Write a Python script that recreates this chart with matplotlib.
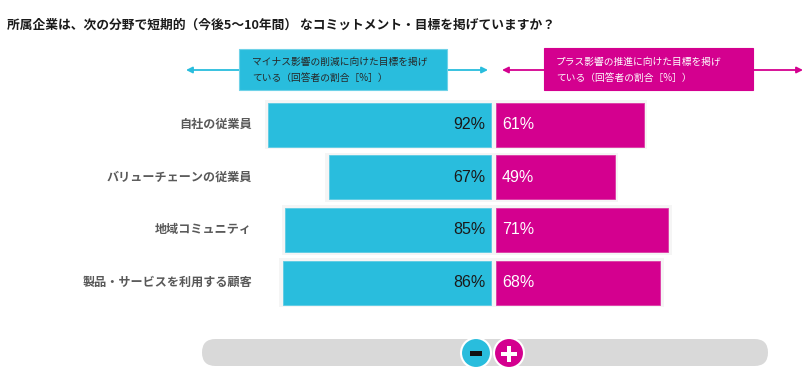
import matplotlib
matplotlib.use("Agg")
import matplotlib.pyplot as plt
import matplotlib.transforms as mtransforms
from matplotlib.patches import Rectangle, Circle, FancyBboxPatch

plt.rcParams["font.family"] = ["Noto Sans CJK JP", "DejaVu Sans"]

# =============================
# DATA
# =============================

title = "所属企業は、次の分野で短期的（今後5～10年間） なコミットメント・目標を掲げていますか？"
categories = ["自社の従業員", "バリューチェーンの従業員", "地域コミュニティ", "製品・サービスを利用する顧客"]
minus_pct = [92, 67, 85, 86]   # negative impact reduction targets
plus_pct = [61, 49, 71, 68]    # positive impact promotion targets
minus_label = "マイナス影響の削減に向けた目標を掲げ\nている（回答者の割合［%］）"
plus_label = "プラス影響の推進に向けた目標を掲げ\nている（回答者の割合［%］）"

CYAN = "#29bddd"
MAGENTA = "#d4008f"
GRAY_TXT = "#595959"

W, H = 809, 380
fig = plt.figure(figsize=(W / 100, H / 100), dpi=100)

# overlay in pixel coords (y down)
ov = fig.add_axes([0, 0, 1, 1])
ov.set_xlim(0, W)
ov.set_ylim(H, 0)
ov.axis("off")

# bar axes: 2.42 px per percent, centre at x=493.5
PX = 2.42
ax_l, ax_r = 200, 790
ax_t, ax_b = 95, 310
ax = fig.add_axes([ax_l / W, 1 - ax_b / H, (ax_r - ax_l) / W, (ax_b - ax_t) / H])
ax.set_xlim(-(493.5 - ax_l) / PX, (ax_r - 493.5) / PX)
pitch = 52.7
ax.set_ylim((ax_b - 124.5) / pitch, -(124.5 - ax_t) / pitch)
ax.axis("off")
ax.patch.set_alpha(0)

gap = 1.0
pad = 1.6
ys = list(range(len(categories)))
bh = 44 / pitch

# faint panel behind each row
ax.barh(ys, [m + p + 2 * gap + 2 * pad for m, p in zip(minus_pct, plus_pct)],
        left=[-(m + gap + pad) for m in minus_pct], height=bh + 0.1,
        color="#f5f5f5", zorder=1)
ax.barh(ys, [-m for m in minus_pct], left=-gap, height=bh, color=CYAN,
        edgecolor="#5ccbe4", linewidth=0.6, zorder=2)
ax.barh(ys, plus_pct, left=gap, height=bh, color=MAGENTA,
        edgecolor="#dc3aa5", linewidth=0.6, zorder=2)

for y, m, p in zip(ys, minus_pct, plus_pct):
    ax.text(-gap - 2.5, y, f"{m}%", ha="right", va="center", fontsize=11.5,
            family=["Liberation Sans"], color="#1a1a1a", zorder=3)
    ax.text(gap + 2.5, y, f"{p}%", ha="left", va="center", fontsize=11.5,
            family=["Liberation Sans"], color="white", zorder=3)

# category labels
tr = mtransforms.blended_transform_factory(ov.transData, ax.transData)
for y, c in zip(ys, categories):
    ax.text(252, y, c, transform=tr, ha="right", va="center", fontsize=8.7,
            fontweight="bold", color=GRAY_TXT)

# title
ov.text(7, 25, title, ha="left", va="center", fontsize=9.2, fontweight="bold",
        color="#1a1a1a")

# legend arrows and boxes
ov.annotate("", xy=(186, 70), xytext=(488, 70),
            arrowprops=dict(arrowstyle="<|-|>", color=CYAN, lw=1.3,
                            mutation_scale=9, shrinkA=0, shrinkB=0))
ov.annotate("", xy=(502, 70), xytext=(803, 70),
            arrowprops=dict(arrowstyle="<|-|>", color=MAGENTA, lw=1.3,
                            mutation_scale=9, shrinkA=0, shrinkB=0))
ov.add_patch(Rectangle((239, 49), 208, 41, facecolor=CYAN, edgecolor="#6fd2e8",
                       lw=0.8, zorder=3))
ov.add_patch(Rectangle((544, 48), 209, 42, facecolor=MAGENTA, edgecolor=MAGENTA,
                       lw=0.8, zorder=3))
ov.text(252, 69.5, minus_label, ha="left", va="center", fontsize=7,
        color="#262626", linespacing=1.75, zorder=4)
ov.text(556, 69.5, plus_label, ha="left", va="center", fontsize=7,
        color="white", linespacing=1.75, zorder=4)

# bottom slider
ov.add_patch(FancyBboxPatch((202, 339), 566, 27,
                            boxstyle="round,pad=0,rounding_size=13.5",
                            facecolor="#d9d9d9", edgecolor="none", zorder=1))
ov.add_patch(Circle((476, 353), 15, facecolor=CYAN, edgecolor="white", lw=1.5, zorder=2))
ov.add_patch(Circle((509, 353), 15, facecolor=MAGENTA, edgecolor="white", lw=1.5, zorder=2))
ov.add_patch(Rectangle((470, 351), 12, 5, facecolor="#111111", edgecolor="none", zorder=3))
ov.add_patch(Rectangle((501, 351.5), 16, 4, facecolor="white", edgecolor="none", zorder=3))
ov.add_patch(Rectangle((507, 345.5), 4, 16, facecolor="white", edgecolor="none", zorder=3))

fig.savefig("out.png", dpi=100)
